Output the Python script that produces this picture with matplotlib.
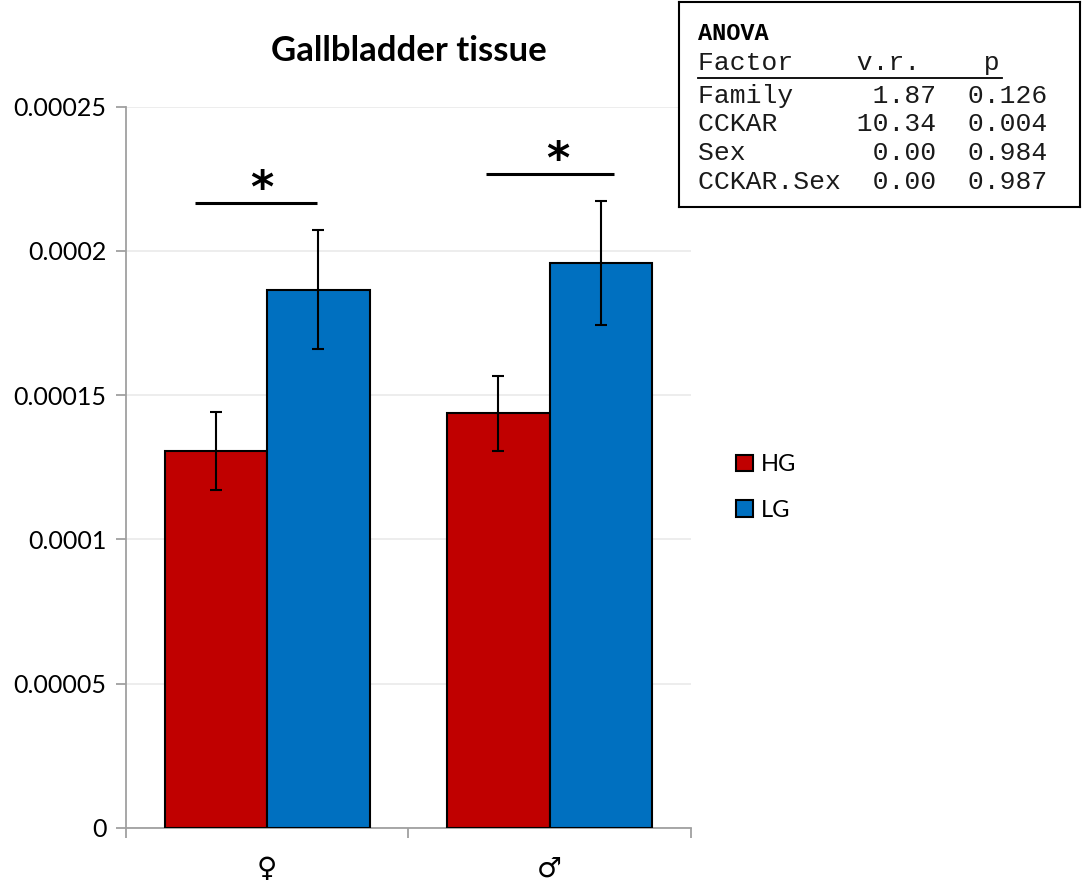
import matplotlib.pyplot as plt
import numpy as np
from matplotlib.patches import Patch

# group means and standard errors
sexes = ['♀', '♂']
groups = ['HG', 'LG']
hg_mean = [1.307e-4, 1.437e-4]
hg_se = [1.36e-5, 1.31e-5]
lg_mean = [1.866e-4, 1.958e-4]
lg_se = [2.06e-5, 2.15e-5]
sig_marks = ['*', '*']

anova_header = 'ANOVA'
anova_cols = ['Factor', 'v.r.', 'p']
anova_rows = [
    ['Family', '1.87', '0.126'],
    ['CCKAR', '10.34', '0.004'],
    ['Sex', '0.00', '0.984'],
    ['CCKAR.Sex', '0.00', '0.987'],
]

red = '#C00000'
blue = '#0070C0'
sans = ['Lato', 'DejaVu Sans']
mono = 'Liberation Mono'

fig = plt.figure(figsize=(10.83, 8.8), dpi=100)
ax = fig.add_axes([0.1163, 0.0592, 0.5217, 0.8196])

x = np.arange(len(sexes))
w = 0.363
ax.bar(x - w / 2, hg_mean, w, yerr=hg_se, color=red, edgecolor='black', linewidth=1.5,
       error_kw=dict(ecolor='black', elinewidth=1.5, capsize=4.5, capthick=1.5), zorder=3)
ax.bar(x + w / 2, lg_mean, w, yerr=lg_se, color=blue, edgecolor='black', linewidth=1.5,
       error_kw=dict(ecolor='black', elinewidth=1.5, capsize=4.5, capthick=1.5), zorder=3)

# significance bars above the taller error bar of each pair
tops = np.maximum(np.array(hg_mean) + np.array(hg_se), np.array(lg_mean) + np.array(lg_se))
for i, mark in enumerate(sig_marks):
    ys = tops[i] + 9.5e-6
    ax.plot([i - 0.255 + 0.03 * i, i + 0.177 + 0.05 * i], [ys, ys], color='black', lw=2.2,
            solid_capstyle='butt', zorder=4)
    ax.text(i - 0.018 + 0.046 * i, ys + 0.3e-6, mark, ha='center', va='baseline',
            fontsize=32, fontweight='bold', family='DejaVu Sans')

ax.set_xlim(-0.5, 1.5)
ax.set_ylim(0, 0.00025)
ax.set_yticks(np.arange(0, 0.000251, 0.00005))
ax.set_yticklabels(['0', '0.00005', '0.0001', '0.00015', '0.0002', '0.00025'],
                   fontsize=18, family=sans)
ax.set_xticks(x)
ax.set_xticklabels(sexes, fontsize=20, family=sans)
ax.set_xticks([-0.5, 0.5, 1.5], minor=True)
ax.tick_params(axis='x', which='major', length=0, pad=20)
ax.tick_params(axis='x', which='minor', length=7, width=1.3, color='#a0a0a0', direction='out')
ax.tick_params(axis='y', length=7, width=1.3, color='#a0a0a0', pad=7)

ax.grid(axis='y', color='#ececec', lw=1.3, zorder=0)
ax.set_axisbelow(True)
for s in ['top', 'right']:
    ax.spines[s].set_visible(False)
for s in ['left', 'bottom']:
    ax.spines[s].set_color('#a0a0a0')
    ax.spines[s].set_linewidth(1.3)

ax.set_title('Gallbladder tissue', fontsize=25, fontweight='bold', family=sans, pad=33)

handles = [Patch(facecolor=red, edgecolor='black', lw=1.5),
           Patch(facecolor=blue, edgecolor='black', lw=1.5)]
fig.legend(handles, groups, loc='center left', bbox_to_anchor=(0.66, 0.446),
           frameon=False, prop={'family': sans, 'size': 17},
           handlelength=0.7, handleheight=0.7, handletextpad=0.35, labelspacing=1.05)

# ANOVA summary box
box = fig.add_axes([0.627, 0.765, 0.370, 0.233])
box.set_xticks([])
box.set_yticks([])
for s in box.spines.values():
    s.set_linewidth(1.5)
    s.set_color('black')

header_line = anova_cols[0].ljust(10) + anova_cols[1].ljust(4) + '    ' + anova_cols[2]
lines = []
for name, vr, p in anova_rows:
    lines.append(name.ljust(9) + vr.rjust(6) + p.rjust(7))

px_w = 401.0
px_h = 205.0
tx = (698 - 679) / px_w
box.text(tx, 1 - 38 / px_h, anova_header, transform=box.transAxes, family=mono,
         fontsize=17, fontweight='bold', va='baseline')
box.text(tx, 1 - 68 / px_h, header_line, transform=box.transAxes, family=mono,
         fontsize=19, va='baseline', color='#1a1a1a')
box.plot([tx, (1002 - 679) / px_w], [1 - 76 / px_h, 1 - 76 / px_h], transform=box.transAxes,
         color='black', lw=1.3)
for k, ln in enumerate(lines):
    box.text(tx, 1 - (101 + 28.7 * k) / px_h, ln, transform=box.transAxes, family=mono,
             fontsize=19, va='baseline', color='#1a1a1a')

fig.savefig('out.png', dpi=100)
